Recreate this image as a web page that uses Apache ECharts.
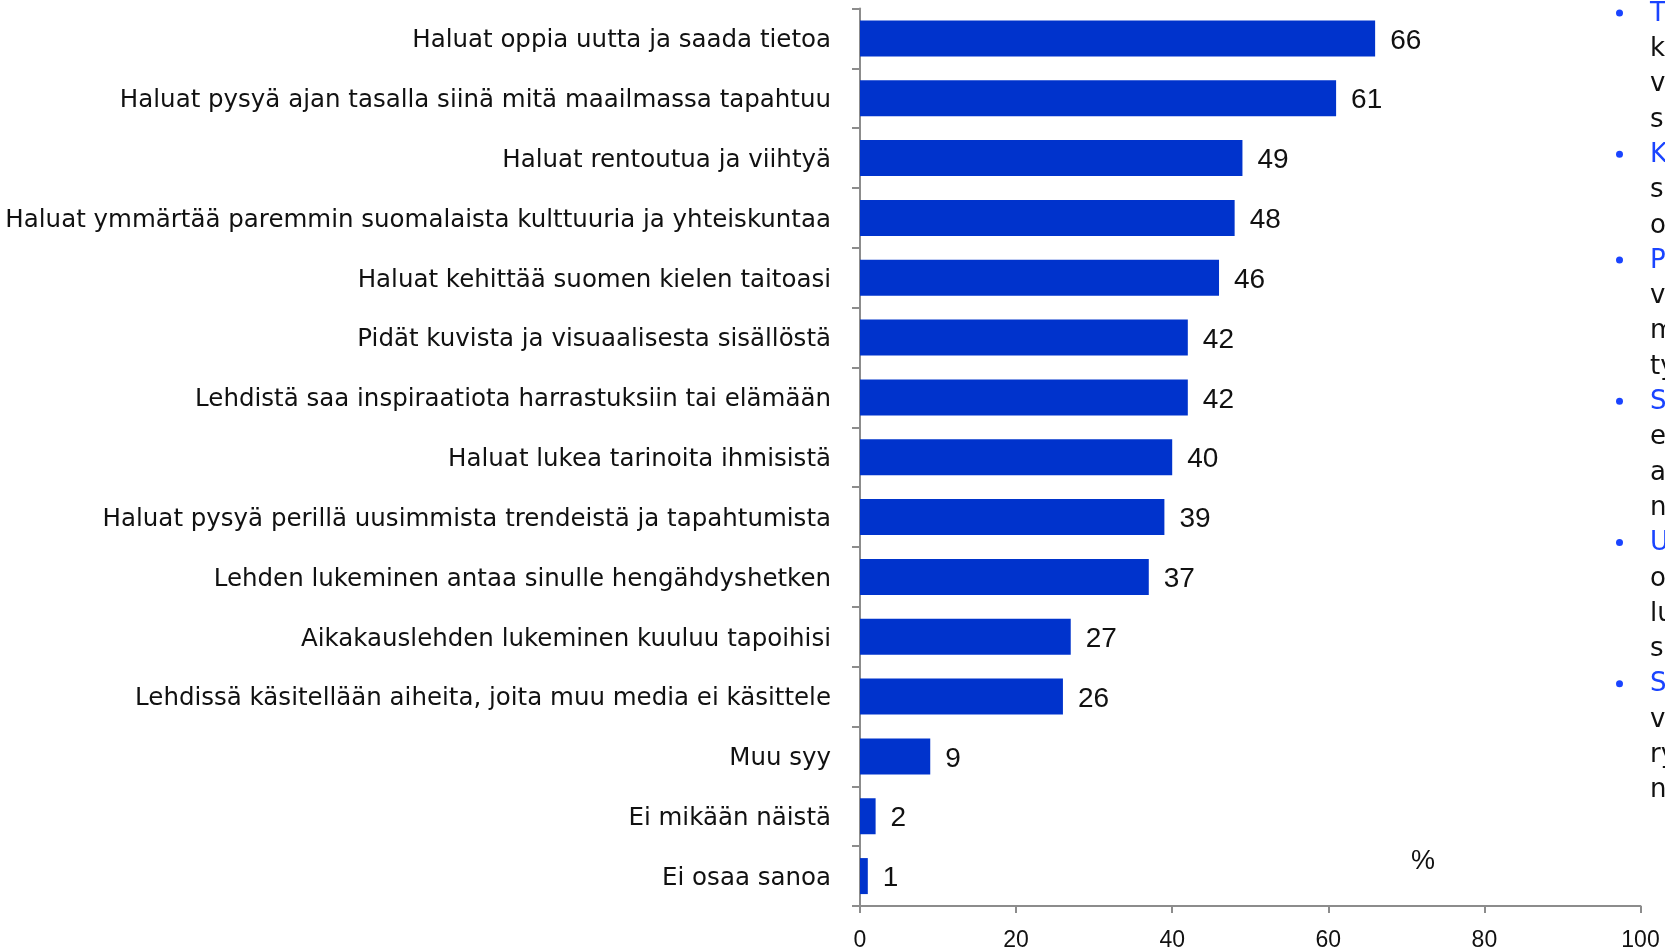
<!DOCTYPE html>
<html>
<head>
<meta charset="utf-8">
<title>Syyt lukea aikakauslehtiä</title>
<script src="https://cdn.jsdelivr.net/npm/echarts@6/dist/echarts.min.js"></script>
<style>
  html, body { margin: 0; padding: 0; background: #ffffff; }
  #chart { width: 1665px; height: 952px; }
</style>
</head>
<body>
<div id="chart"></div>
<script>
// Reasons for reading magazines, share of respondents (%)
const categories = [
  'Haluat oppia uutta ja saada tietoa',
  'Haluat pysyä ajan tasalla siinä mitä maailmassa tapahtuu',
  'Haluat rentoutua ja viihtyä',
  'Haluat ymmärtää paremmin suomalaista kulttuuria ja yhteiskuntaa',
  'Haluat kehittää suomen kielen taitoasi',
  'Pidät kuvista ja visuaalisesta sisällöstä',
  'Lehdistä saa inspiraatiota harrastuksiin tai elämään',
  'Haluat lukea tarinoita ihmisistä',
  'Haluat pysyä perillä uusimmista trendeistä ja tapahtumista',
  'Lehden lukeminen antaa sinulle hengähdyshetken',
  'Aikakauslehden lukeminen kuuluu tapoihisi',
  'Lehdissä käsitellään aiheita, joita muu media ei käsittele',
  'Muu syy',
  'Ei mikään näistä',
  'Ei osaa sanoa'
];
const values = [66, 61, 49, 48, 46, 42, 42, 40, 39, 37, 27, 26, 9, 2, 1];

const xTicks = { min: 0, max: 100, interval: 20 };
const unitLabel = '%';

// Side notes column; only the leading characters fit inside the canvas
const notes = [
  { text: 'T', head: true },
  { text: 'k' }, { text: 'v' }, { text: 's' },
  { text: 'K', head: true },
  { text: 's' }, { text: 'o' },
  { text: 'P', head: true },
  { text: 'v' }, { text: 'm' }, { text: 'ty' },
  { text: 'S', head: true },
  { text: 'e' }, { text: 'a' }, { text: 'n' },
  { text: 'U', head: true },
  { text: 'o' }, { text: 'lu' }, { text: 's' },
  { text: 'S', head: true },
  { text: 'v' }, { text: 'ry' }, { text: 'n' }
];

const BAR = '#0033cc';
const NOTE_BLUE = '#1a44ff';
const AXIS = '#8c8c8c';
const labelFont = '"DejaVu Sans", Inter, sans-serif';
const numFont = '"Liberation Sans", Arial, sans-serif';

const chart = echarts.init(document.getElementById('chart'), null, { renderer: 'canvas' });

const noteElements = [];
const lineStep = 35.3;
notes.forEach((n, i) => {
  const y = 14 + i * lineStep;
  if (n.head) {
    noteElements.push({
      type: 'circle',
      shape: { cx: 1619.5, cy: y - 1, r: 3.5 },
      style: { fill: NOTE_BLUE }
    });
  }
  noteElements.push({
    type: 'text',
    x: 1650, y: y,
    style: {
      text: n.text,
      fill: n.head ? NOTE_BLUE : '#111111',
      font: '26px ' + labelFont,
      verticalAlign: 'middle',
      align: 'left'
    }
  });
});

chart.setOption({
  animation: false,
  backgroundColor: '#ffffff',
  grid: { left: 860, right: 24.5, top: 8.5, bottom: 46, containLabel: false },
  xAxis: {
    type: 'value',
    min: xTicks.min,
    max: xTicks.max,
    interval: xTicks.interval,
    axisLine: { show: true, lineStyle: { color: AXIS, width: 2 } },
    axisTick: { show: true, length: 7, lineStyle: { color: AXIS, width: 2 } },
    splitLine: { show: false },
    axisLabel: { margin: 23, color: '#111111', fontSize: 23, fontFamily: numFont }
  },
  yAxis: {
    type: 'category',
    inverse: true,
    data: categories,
    axisLine: { show: true, lineStyle: { color: AXIS, width: 2 } },
    axisTick: { show: true, length: 8, lineStyle: { color: AXIS, width: 2 } },
    axisLabel: {
      margin: 29,
      formatter: (v) => '{c|' + v + '}',
      rich: {
        c: {
          color: '#111111', fontSize: 24.5, fontFamily: labelFont,
          padding: [5, 0, 0, 0]
        }
      }
    }
  },
  series: [{
    type: 'bar',
    data: values,
    barWidth: 36,
    itemStyle: { color: BAR },
    label: {
      show: true,
      position: 'right',
      distance: 15,
      offset: [0, 2.5],
      color: '#111111',
      fontSize: 28,
      fontFamily: numFont
    }
  }],
  graphic: [
    {
      type: 'text',
      x: 1423, y: 862,
      style: {
        text: unitLabel,
        fill: '#111111',
        font: '27px ' + numFont,
        align: 'center',
        verticalAlign: 'middle'
      }
    }
  ].concat(noteElements)
});
</script>
</body>
</html>
